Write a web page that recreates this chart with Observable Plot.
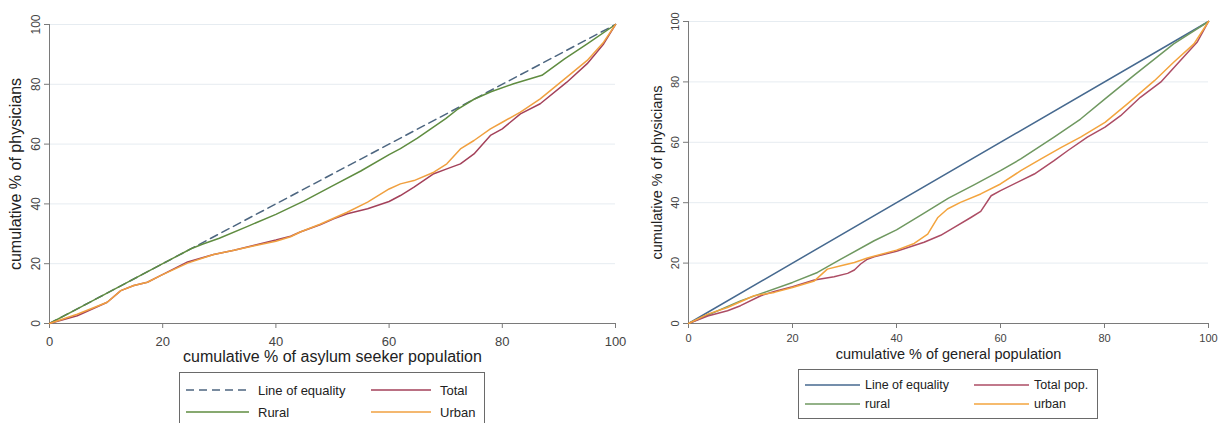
<!DOCTYPE html>
<html><head><meta charset="utf-8">
<script src="https://cdn.jsdelivr.net/npm/d3@7"></script>
<script src="https://cdn.jsdelivr.net/npm/@observablehq/plot@0.6"></script>
<style>
body{margin:0;background:#fff;font-family:Arial,"Liberation Sans",sans-serif;}
#root{position:relative;width:1221px;height:423px;overflow:hidden;background:#fff;}
.panel{position:absolute;top:0;}
.legend{position:absolute;border:1px solid #6a6a6a;box-sizing:border-box;color:#222;background:#fff;}
.item{position:absolute;display:flex;align-items:center;height:16px;transform:translateY(-8px);white-space:nowrap;}
.item svg{display:block;}
</style></head><body>
<div id="root">
  <div id="left" class="panel" style="left:0px"></div>
  <div id="right" class="panel" style="left:640px"></div>
  <div id="legL" class="legend" style="left:179px;top:372px;width:306px;height:60px;font-size:13px"></div>
  <div id="legR" class="legend" style="left:798px;top:369px;width:300px;height:50px;font-size:12.5px"></div>
</div>
<script>
// ---- axis ticks ----
const xTicks = [0, 20, 40, 60, 80, 100];
const yTicks = [0, 20, 40, 60, 80, 100];

// ---- Left panel: asylum seeker population ----
const eqAsylumX = [0, 100];
const eqAsylumY = [0, 100];
const ruralAsylumX = [0, 5, 10, 15, 20, 25, 27, 30, 35, 40, 45, 50, 55, 60, 62, 65, 70, 72, 75, 78, 82, 87, 91, 95, 100];
const ruralAsylumY = [0, 5, 10, 15, 20, 25, 26.5, 28.5, 32.5, 36.5, 41, 46, 51, 56.5, 58.5, 62, 68.5, 71.5, 75, 77.5, 80.2, 83, 88.5, 93.5, 100];
const popAsylumX = [0, 4.9, 10.2, 12.6, 14.9, 17.3, 19.6, 24.4, 29, 32.6, 36.2, 40, 42.6, 44.3, 47.8, 50.2, 52.6, 56.2, 60, 62, 64.4, 67.9, 70.2, 72.6, 75, 77.9, 80, 83.2, 86.7, 91.4, 95, 97.9, 100];
const totalAsylumY = [0, 2.6, 7.1, 11, 12.7, 13.8, 16, 20.6, 23.1, 24.5, 26.2, 27.9, 29.2, 30.6, 33, 35, 36.7, 38.4, 40.8, 42.8, 45.6, 50.1, 51.7, 53.4, 56.7, 62.9, 65.1, 70.1, 73.5, 80.7, 86.9, 93.5, 100];
const urbanAsylumY = [0, 3.1, 7.1, 11, 12.7, 13.8, 16, 20.2, 23.1, 24.5, 26, 27.5, 29, 30.6, 33.2, 35.2, 37.2, 40.6, 45, 46.7, 47.8, 50.6, 53.4, 58.4, 61.2, 65.1, 67.3, 70.7, 75.1, 82.4, 88, 94.1, 100];

// ---- Right panel: general population ----
const eqGeneralX = [0, 100];
const eqGeneralY = [0, 100];
const ruralGeneralX = [0, 10, 20, 24.8, 29.3, 35.7, 40, 45, 50, 55, 60, 63.9, 70.3, 75.4, 80.1, 85.6, 93.3, 100];
const ruralGeneralY = [0, 7.5, 13.6, 16.9, 21.3, 27.4, 31, 36.2, 41.5, 46, 50.6, 54.5, 61.7, 67.7, 74.4, 82.1, 92.6, 100];
const totalGeneralX = [0, 3.7, 7.5, 10, 13.9, 16.5, 20, 24.2, 28, 30.6, 31.9, 33.1, 34.4, 35.7, 40, 45.3, 48.5, 51.1, 54.3, 56.2, 58.2, 60, 63.9, 66.5, 70.3, 72.9, 76.7, 80.1, 83.1, 86.9, 90.8, 94.6, 97.8, 100];
const totalGeneralY = [0, 2.5, 4.2, 5.9, 9.2, 10.6, 12.2, 14.4, 15.5, 16.6, 17.7, 19.7, 21.3, 22.1, 23.9, 26.9, 29.2, 31.8, 35.1, 37.1, 42.3, 44, 47.3, 49.5, 53.9, 57.2, 61.7, 65, 68.8, 74.9, 79.9, 87.1, 93.1, 100];
const urbanGeneralX = [0, 3.7, 7.5, 12.6, 16.5, 20, 24.2, 26.7, 29.3, 31.9, 34.4, 40, 43.4, 46, 47.9, 49.8, 52.3, 56.2, 60, 63.9, 67.8, 71.7, 75.4, 80.1, 84.4, 89.6, 93.3, 97.2, 100];
const urbanGeneralY = [0, 3.1, 5.3, 9.2, 10.3, 11.9, 14.1, 18, 19.1, 20.2, 21.7, 24.3, 26.5, 29.6, 35, 37.9, 40.1, 42.9, 46.2, 50.6, 54.5, 58.3, 61.7, 66.6, 72.7, 80.4, 86.5, 92.6, 100];

// ---- legend labels / colours ----
const leftLegend = [
  {label: "Line of equality", color: "#4d6680", dash: "8,5"},
  {label: "Total", color: "#a3415a"},
  {label: "Rural", color: "#5f8c40"},
  {label: "Urban", color: "#f0a040"}
];
const rightLegend = [
  {label: "Line of equality", color: "#46698f"},
  {label: "Total pop.", color: "#ac4c64"},
  {label: "rural", color: "#6f9860"},
  {label: "urban", color: "#f3a43e"}
];

const pts = (xs, ys) => xs.map((x, i) => ({x, y: ys[i]}));

function panel(cfg) {
  const {width, marginLeft, marginRight, marginTop, xTickFont, yTickFont, xTickPad, titleFont, xLabel, yLabel, yLabelOffset, xLabelOffset, series} = cfg;
  return Plot.plot({
    width, height: 365, marginLeft, marginRight, marginTop, marginBottom: 42,
    style: {fontFamily: "Arial, 'Liberation Sans', sans-serif", background: "transparent", overflow: "visible"},
    x: {domain: [0, 100]},
    y: {domain: [0, 100]},
    marks: [
      Plot.gridY(yTicks.filter(d => d > 0), {stroke: "#e6ecf1", strokeOpacity: 1}),
      Plot.ruleY([0], {stroke: "#7a7a7a", strokeWidth: 1}),
      Plot.ruleX([0], {stroke: "#7a7a7a", strokeWidth: 1}),
      Plot.axisX({ticks: xTicks, tickSize: 5, tickPadding: xTickPad, stroke: "#7a7a7a", fill: "#444", fontSize: xTickFont, label: null}),
      Plot.axisX({ticks: [], label: xLabel, labelAnchor: "center", labelArrow: "none", labelOffset: xLabelOffset, fill: "#222", fontSize: titleFont}),
      Plot.axisY({ticks: yTicks, tickSize: 5, tickRotate: -90, tickPadding: 5, stroke: "#7a7a7a", fill: "#444", fontSize: yTickFont, label: null}),
      Plot.axisY({ticks: [], label: yLabel, labelAnchor: "center", labelArrow: "none", labelOffset: yLabelOffset, fill: "#222", fontSize: titleFont}),
      ...series.map(s => Plot.line(pts(s.x, s.y), {x: "x", y: "y", stroke: s.color, strokeWidth: 1.5, strokeDasharray: s.dash, curve: "linear"}))
    ]
  });
}

document.getElementById("left").appendChild(panel({
  width: 630, marginLeft: 49, marginRight: 15, marginTop: 24, xTickFont: 13, yTickFont: 12, xTickPad: 8, titleFont: 16,
  xLabel: "cumulative % of asylum seeker population", yLabel: "cumulative % of physicians",
  yLabelOffset: 40, xLabelOffset: 38,
  series: [
    {x: eqAsylumX, y: eqAsylumY, color: leftLegend[0].color, dash: leftLegend[0].dash},
    {x: ruralAsylumX, y: ruralAsylumY, color: leftLegend[2].color},
    {x: popAsylumX, y: totalAsylumY, color: leftLegend[1].color},
    {x: popAsylumX, y: urbanAsylumY, color: leftLegend[3].color}
  ]
}));

document.getElementById("right").appendChild(panel({
  width: 580, marginLeft: 48, marginRight: 12, marginTop: 21, xTickFont: 11, yTickFont: 11, xTickPad: 6, titleFont: 14.5,
  xLabel: "cumulative % of general population", yLabel: "cumulative % of physicians",
  yLabelOffset: 37, xLabelOffset: 35,
  series: [
    {x: eqGeneralX, y: eqGeneralY, color: rightLegend[0].color},
    {x: ruralGeneralX, y: ruralGeneralY, color: rightLegend[2].color},
    {x: totalGeneralX, y: totalGeneralY, color: rightLegend[1].color},
    {x: urbanGeneralX, y: urbanGeneralY, color: rightLegend[3].color}
  ]
}));

function legend(el, items, layout) {
  items.forEach((it, i) => {
    const col = i % 2, row = Math.floor(i / 2);
    const d = document.createElement("div");
    d.className = "item";
    d.style.left = layout.colX[col] + "px";
    d.style.top = layout.rowY[row] + "px";
    const len = layout.swatch[col];
    d.innerHTML = `<svg width="${len}" height="4"><line x1="0" x2="${len}" y1="2" y2="2" stroke="${it.color}" stroke-width="1.5" ${it.dash ? `stroke-dasharray="${it.dash}"` : ""}/></svg><span style="margin-left:${layout.gap}px">${it.label}</span>`;
    el.appendChild(d);
  });
}
legend(document.getElementById("legL"), leftLegend, {colX: [6, 191], rowY: [17, 39], swatch: [63, 60], gap: 9});
legend(document.getElementById("legR"), rightLegend, {colX: [6, 175], rowY: [15, 34], swatch: [55, 55], gap: 5});
</script>
</body></html>
